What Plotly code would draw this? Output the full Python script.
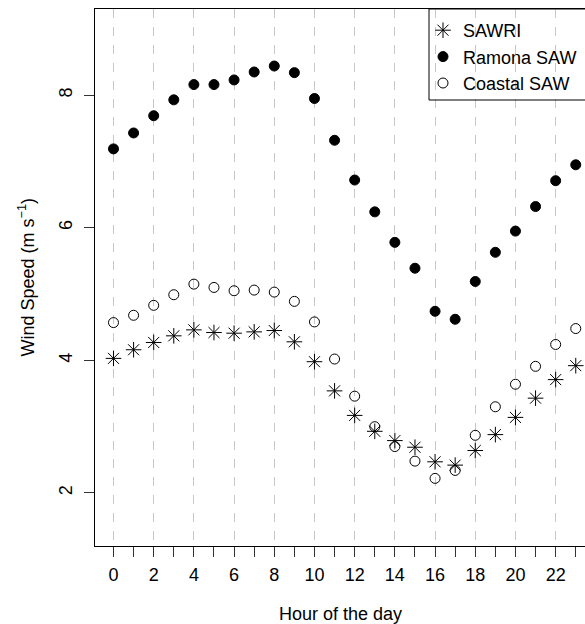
import plotly.graph_objects as go

hours = list(range(24))

sawri = [4.03, 4.16, 4.27, 4.37, 4.46, 4.42, 4.41, 4.43, 4.45, 4.28, 3.98, 3.54,
         3.17, 2.93, 2.79, 2.69, 2.47, 2.42, 2.64, 2.88, 3.14, 3.43, 3.71, 3.92]
ramona = [7.19, 7.43, 7.69, 7.93, 8.16, 8.16, 8.23, 8.35, 8.44, 8.34, 7.95, 7.32,
          6.72, 6.24, 5.78, 5.39, 4.74, 4.62, 5.19, 5.63, 5.95, 6.32, 6.71, 6.95]
coastal = [4.57, 4.68, 4.83, 4.99, 5.15, 5.10, 5.05, 5.06, 5.03, 4.89, 4.58, 4.02,
           3.46, 3.00, 2.70, 2.48, 2.22, 2.34, 2.87, 3.30, 3.64, 3.91, 4.24, 4.48]

x_major = list(range(0, 24, 2))
y_ticks = [2, 4, 6, 8]

FONT = "Liberation Sans, Arial, Helvetica, sans-serif"

fig = go.Figure()
fig.add_trace(go.Scatter(
    x=hours, y=sawri, mode="markers", name="SAWRI",
    marker=dict(symbol="asterisk-open", size=13, color="black",
                line=dict(color="black", width=1))))
fig.add_trace(go.Scatter(
    x=hours, y=ramona, mode="markers", name="Ramona SAW",
    marker=dict(symbol="circle", size=10, color="black",
                line=dict(color="black", width=1))))
fig.add_trace(go.Scatter(
    x=hours, y=coastal, mode="markers", name="Coastal SAW",
    marker=dict(symbol="circle-open", size=10, color="black",
                line=dict(color="black", width=1))))

PW, PH = 490, 537

fig.update_layout(
    width=585, height=624,
    margin=dict(l=95, r=0, t=9, b=78, autoexpand=False),
    paper_bgcolor="white", plot_bgcolor="white",
    font=dict(family=FONT, size=18, color="black"),
    showlegend=True,
    legend=dict(x=(423 - 95) / PW, y=1 - 3 / PH, xanchor="left", yanchor="top",
                borderwidth=0, bgcolor="rgba(0,0,0,0)",
                font=dict(size=18), itemwidth=30, tracegroupgap=0),
    xaxis=dict(
        range=[-0.92, 23.46], tickmode="array", tickvals=x_major,
        ticktext=[str(v) for v in x_major],
        ticks="outside", ticklen=10, tickwidth=1, tickcolor="#333",
        ticklabelstandoff=2,
        showline=True, linecolor="black", linewidth=1, mirror=True,
        showgrid=True, gridcolor="#c8c8c8", griddash="dash", gridwidth=1,
        zeroline=False,
        minor=dict(dtick=1, tick0=0, ticks="outside", ticklen=10, tickwidth=1,
                   tickcolor="#333", showgrid=False),
        tickfont=dict(size=18),
    ),
    yaxis=dict(
        range=[1.2, 9.3], tickmode="array", tickvals=y_ticks,
        ticktext=[str(v) for v in y_ticks],
        ticks="outside", ticklen=10, tickwidth=1, tickcolor="#333",
        ticklabelstandoff=5,
        showline=True, linecolor="black", linewidth=1, mirror=False,
        showgrid=False, zeroline=False, tickangle=-90,
        tickfont=dict(size=18),
    ),
    shapes=[
        dict(type="rect", xref="paper", yref="paper",
             x0=(429 - 95) / PW, x1=1.1, y0=(546 - 100) / PH, y1=1.0,
             line=dict(color="black", width=1), fillcolor="rgba(0,0,0,0)",
             layer="above"),
    ],
    annotations=[
        dict(text="Hour of the day", xref="paper", yref="paper",
             x=0.5, y=-(614 - 546) / PH, xanchor="center", yanchor="middle",
             showarrow=False, font=dict(size=18)),
        dict(text="Wind Speed (m s<sup>−1</sup>)", xref="paper", yref="paper",
             x=-(95 - 27) / PW, y=0.5, xanchor="center", yanchor="middle",
             textangle=-90, showarrow=False, font=dict(size=18)),
    ],
)

fig.write_html("out.html",
               config={"displayModeBar": False},
               post_script="document.body.style.margin='0';"
                           "document.body.style.overflow='hidden';")
